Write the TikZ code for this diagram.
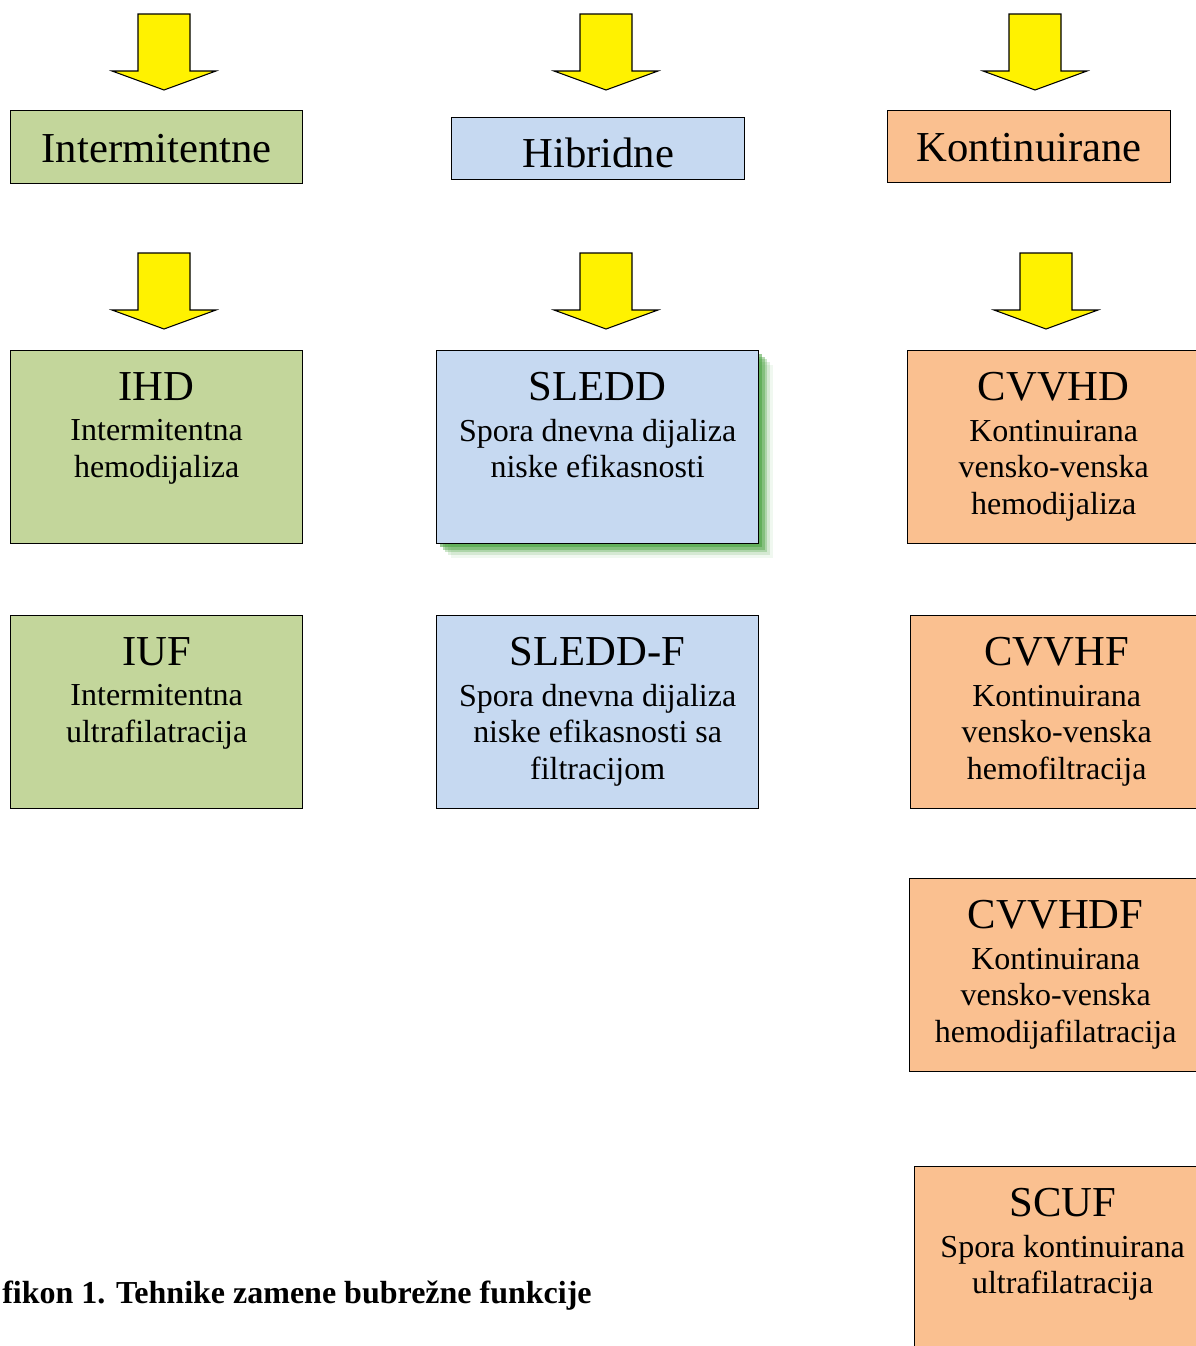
\documentclass[tikz,border=0pt]{standalone}
\usepackage{fontspec}
\setmainfont{Liberation Serif}
\usetikzlibrary{positioning,shadows}

\definecolor{intgreen}{RGB}{195,214,155}
\definecolor{hibblue}{RGB}{198,217,241}
\definecolor{kontorange}{RGB}{250,192,144}
\definecolor{shadowgreen}{RGB}{70,160,60}

\tikzstyle{catbox}=[draw,line width=1pt,rectangle,inner sep=0pt,anchor=north west,font=\fontsize{32}{36}\selectfont]
\tikzstyle{methbox}=[draw,line width=1pt,rectangle,inner sep=0pt,anchor=north west,minimum height=144.75pt]
\tikzstyle{methtext}=[font=\fontsize{24}{27.4}\selectfont,align=center,inner sep=0pt,anchor=north]
\tikzstyle{blockarrow}=[draw,line width=0.8pt,fill=yellow,line join=miter]
\tikzstyle{greenshadow}=[drop shadow={fill=shadowgreen,opacity=.55,shadow xshift=2.5pt,shadow yshift=-2.5pt},
    drop shadow={fill=shadowgreen,opacity=.4,shadow xshift=4.5pt,shadow yshift=-4.5pt},
    drop shadow={fill=shadowgreen,opacity=.28,shadow xshift=6.5pt,shadow yshift=-6.5pt},
    drop shadow={fill=shadowgreen,opacity=.16,shadow xshift=8.5pt,shadow yshift=-8.5pt},
    drop shadow={fill=shadowgreen,opacity=.08,shadow xshift=10.5pt,shadow yshift=-10.5pt}]
\newcommand{\titlefont}{\fontsize{32}{36}\selectfont}
\newcommand{\yarrow}[2]{\path[blockarrow] (#1-26,#2) -- (#1+26,#2) -- (#1+26,#2+57) -- (#1+52,#2+57) -- (#1,#2+76) -- (#1-52,#2+57) -- (#1-26,#2+57) -- cycle;}

\begin{document}
\begin{tikzpicture}[x=0.75pt, y=-0.75pt]
    \useasboundingbox (0,0) rectangle (1196,1346);
    \clip (0,0) rectangle (1196,1346);
    % yellow arrows
    \foreach \x/\y in {164/14, 606/14, 1035/14, 164/253, 606/253, 1046/253}
        {\yarrow{\x}{\y}}

    % the three groups
    \node[catbox, fill=intgreen, minimum width=219pt, text height=39pt, text depth=15.75pt] (inter) at (10,110) {Intermitentne};
    \node[catbox, fill=hibblue, minimum width=219.75pt, text height=37.5pt, text depth=9pt] (hibr) at (451,117) {Hibridne};
    \node[catbox, fill=kontorange, minimum width=212.25pt, text height=38.25pt, text depth=15.75pt] (kont) at (887,110) {Kontinuirane};

    % the methods
    \foreach \pos/\name/\boxw/\col/\txt in {
        {(10,350)/ihd/219pt/intgreen/{{\titlefont IHD}\\[3pt] Intermitentna\\ hemodijaliza}},
        {(10,615)/iuf/219pt/intgreen/{{\titlefont IUF}\\[3pt] Intermitentna\\ ultrafilatracija}},
        {(436,615)/sleddf/241.5pt/hibblue/{{\titlefont SLEDD-F}\\[3pt] Spora dnevna dijaliza\\ niske efikasnosti sa\\ filtracijom}},
        {(907,350)/cvvhd/219pt/kontorange/{{\titlefont CVVHD}\\[3pt] Kontinuirana\\ vensko-venska\\ hemodijaliza}},
        {(910,615)/cvvhf/219pt/kontorange/{{\titlefont CVVHF}\\[3pt] Kontinuirana\\ vensko-venska\\ hemofiltracija}},
        {(909,878)/cvvhdf/219pt/kontorange/{{\titlefont CVVHDF}\\[3pt] Kontinuirana\\ vensko-venska\\ hemodijafilatracija}},
        {(914,1166)/scuf/222pt/kontorange/{{\titlefont SCUF}\\[3pt] Spora kontinuirana\\ ultrafilatracija}}}
    {
        \node[methbox, fill=\col, minimum width=\boxw] (\name) at \pos {};
        \node[methtext, below=16.5pt of \name.north] (\name-txt) {\txt};
    }
    \node[methbox, fill=hibblue, minimum width=241.5pt, greenshadow] (sledd) at (436,350) {};
    \node[methtext, below=16.5pt of sledd.north] (sledd-txt) {{\titlefont SLEDD}\\[3pt] Spora dnevna dijaliza\\ niske efikasnosti};

    % caption
    \node[anchor=base west, inner sep=0pt, font=\bfseries\fontsize{24}{28}\selectfont] (caption) at (2,1303) {fikon 1. Tehnike zamene bubrežne funkcije};
\end{tikzpicture}
\end{document}
